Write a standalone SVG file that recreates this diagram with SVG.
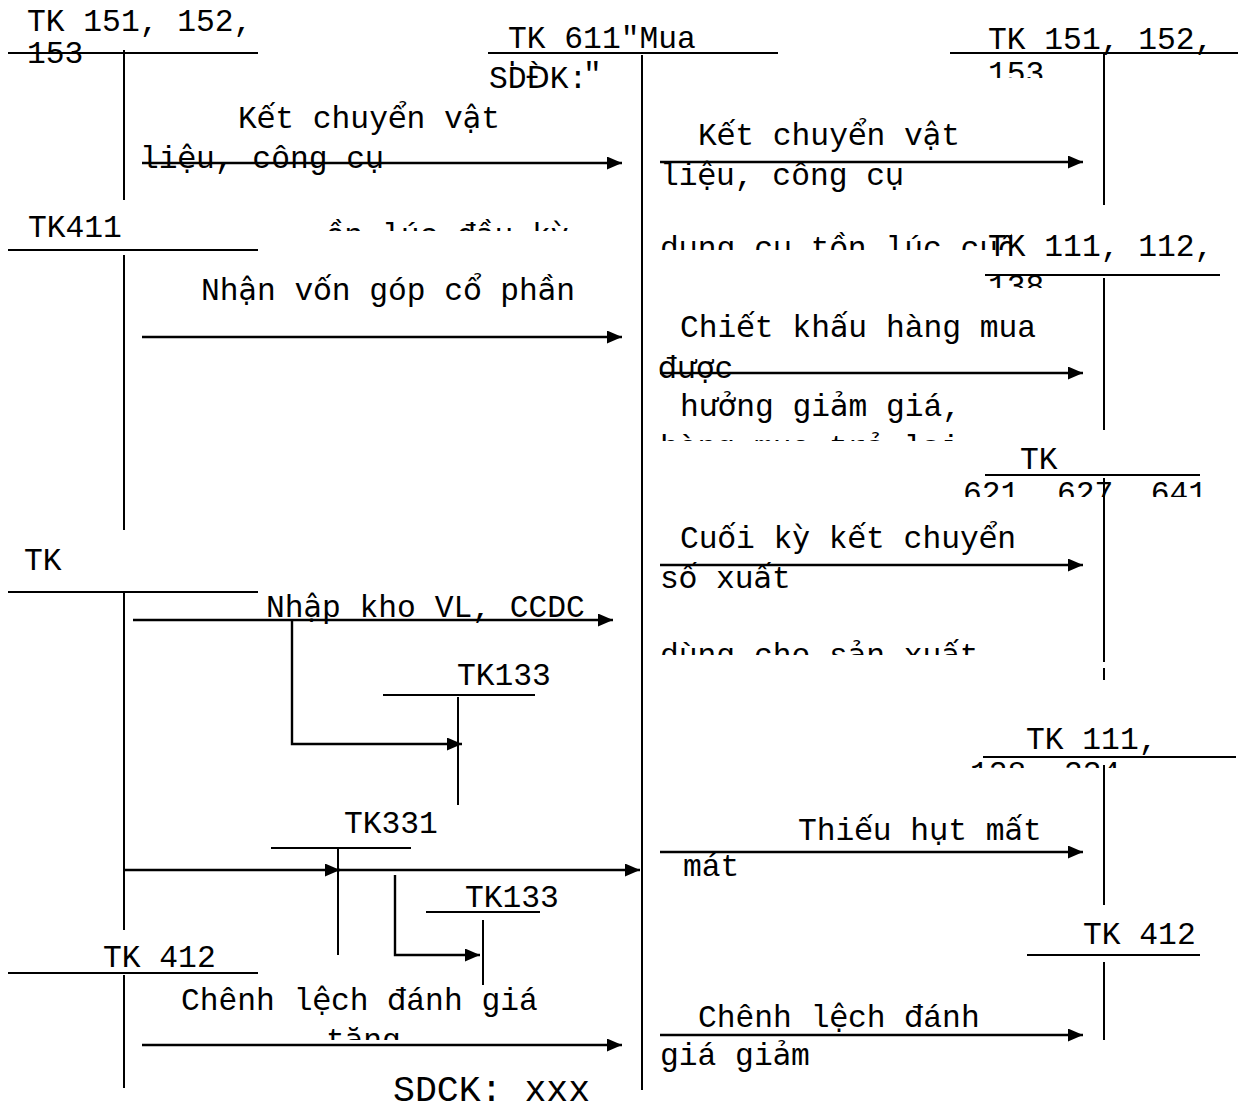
<svg xmlns="http://www.w3.org/2000/svg" width="1243" height="1111" viewBox="0 0 1243 1111">
<style>
text{font-family:"Liberation Mono","Courier New",monospace;font-size:31.3px;fill:#000}
.v{font-family:"DejaVu Sans","Liberation Sans",sans-serif;font-size:30px}
.big{font-size:36.5px}
line,polyline{stroke:#000;stroke-width:2;fill:none}
.c line,.c polyline{stroke-width:2.4}
</style>
<defs>
<marker id="ah" markerUnits="userSpaceOnUse" markerWidth="15" markerHeight="13" refX="15" refY="6.5" orient="auto"><path d="M0,0 L15,6.5 L0,13 z" fill="#000"/></marker>
<clipPath id="k1"><rect x="322" y="200" width="320" height="31"/></clipPath>
<clipPath id="k2"><rect x="650" y="220" width="362" height="30"/></clipPath>
<clipPath id="k3"><rect x="650" y="420" width="360" height="21"/></clipPath>
<clipPath id="k4"><rect x="650" y="630" width="360" height="25"/></clipPath>
<clipPath id="k5"><rect x="300" y="1020" width="200" height="20"/></clipPath>
<clipPath id="k6"><rect x="980" y="55" width="100" height="23"/></clipPath>
<clipPath id="k7"><rect x="980" y="276" width="100" height="12"/></clipPath>
<clipPath id="k8"><rect x="950" y="477" width="260" height="20"/></clipPath>
<clipPath id="k9"><rect x="950" y="759" width="260" height="9"/></clipPath>
</defs>

<g id="tk151-left">
<text x="27" y="31">TK 151, 152,</text>
<text x="27" y="63">153</text>
<line x1="8" y1="53" x2="258" y2="53"/>
<line x1="124" y1="50" x2="124" y2="200"/>
</g>

<g id="tk611">
<text x="508" y="48">TK 611"Mua</text>
<text x="508" y="84">hàng"</text>
<rect x="486" y="66" width="98" height="30" fill="#fff"/>
<text x="489" y="88">SD<tspan class="v">Đ</tspan>K:</text>
<line x1="488" y1="53" x2="778" y2="53"/>
<line x1="642" y1="55" x2="642" y2="1090"/>
</g>

<g id="tk151-right">
<text x="988" y="49">TK 151, 152,</text>
<text x="988" y="83" clip-path="url(#k6)">153</text>
<line x1="950" y1="53" x2="1238" y2="53"/>
<line x1="1104" y1="53" x2="1104" y2="205"/>
</g>

<g id="tk411">
<text x="28" y="237">TK411</text>
<line x1="8" y1="250" x2="258" y2="250"/>
<line x1="124" y1="255" x2="124" y2="530"/>
</g>

<g id="tk111-112-138">
<text x="988" y="256">TK 111, 112,</text>
<text x="988" y="296" clip-path="url(#k7)">138</text>
<line x1="985" y1="275" x2="1220" y2="275"/>
<line x1="1104" y1="278" x2="1104" y2="430"/>
</g>

<g id="tk621-627-641">
<text x="1020" y="469">TK</text>
<text x="963" y="503" clip-path="url(#k8)">621, 627, 641</text>
<line x1="985" y1="475" x2="1200" y2="475"/>
<line x1="1104" y1="478" x2="1104" y2="662"/>
<line x1="1104" y1="668" x2="1104" y2="680"/>
</g>

<g id="tk111-138-334">
<text x="1026" y="749">TK 111,</text>
<text x="970" y="783" clip-path="url(#k9)">138, 334</text>
<line x1="983" y1="757" x2="1236" y2="757"/>
<line x1="1104" y1="765" x2="1104" y2="905"/>
</g>

<g id="tk412-right">
<text x="1083" y="944">TK 412</text>
<line x1="1027" y1="955" x2="1200" y2="955"/>
<line x1="1104" y1="962" x2="1104" y2="1040"/>
</g>

<g id="tk-left">
<text x="24" y="570">TK</text>
<line x1="8" y1="592" x2="258" y2="592"/>
<line x1="124" y1="592" x2="124" y2="930"/>
</g>

<g id="tk133-a">
<text x="457" y="685">TK133</text>
<line x1="383" y1="695" x2="535" y2="695"/>
<line x1="458" y1="697" x2="458" y2="805"/>
</g>

<g id="tk331">
<text x="344" y="833">TK331</text>
<line x1="271" y1="848" x2="411" y2="848"/>
<line x1="338" y1="848" x2="338" y2="955"/>
</g>

<g id="tk133-b">
<text x="465" y="907">TK133</text>
<line x1="426" y1="912" x2="540" y2="912"/>
<line x1="483" y1="920" x2="483" y2="985"/>
</g>

<g id="tk412-left">
<text x="103" y="967">TK 412</text>
<line x1="8" y1="973" x2="258" y2="973"/>
<line x1="124" y1="975" x2="124" y2="1088"/>
</g>

<g id="labels">
<text x="238" y="128">K<tspan class="v">ế</tspan>t chuy<tspan class="v">ể</tspan>n v<tspan class="v">ậ</tspan>t</text>
<text x="140" y="168">li<tspan class="v">ệ</tspan>u, công c<tspan class="v">ụ</tspan></text>
<text x="326" y="245" clip-path="url(#k1)"><tspan class="v">ồ</tspan>n lúc <tspan class="v">đầ</tspan>u k<tspan class="v">ỳ</tspan></text>
<text x="201" y="300">Nh<tspan class="v">ậ</tspan>n v<tspan class="v">ố</tspan>n góp c<tspan class="v">ổ</tspan> ph<tspan class="v">ầ</tspan>n</text>
<text x="266" y="617">Nh<tspan class="v">ậ</tspan>p kho VL, CCDC</text>
<text x="181" y="1010">Chênh l<tspan class="v">ệ</tspan>ch <tspan class="v">đ</tspan>ánh giá</text>
<text x="326" y="1050" clip-path="url(#k5)">t<tspan class="v">ă</tspan>ng</text>
<text class="big" x="393" y="1101">SDCK: xxx</text>

<text x="698" y="145">K<tspan class="v">ế</tspan>t chuy<tspan class="v">ể</tspan>n v<tspan class="v">ậ</tspan>t</text>
<text x="660" y="185">li<tspan class="v">ệ</tspan>u, công c<tspan class="v">ụ</tspan></text>
<text x="660" y="258" clip-path="url(#k2)">d<tspan class="v">ụ</tspan>ng c<tspan class="v">ụ</tspan> t<tspan class="v">ồ</tspan>n lúc cu<tspan class="v">ố</tspan>i</text>
<text x="680" y="337">Chi<tspan class="v">ế</tspan>t kh<tspan class="v">ấ</tspan>u hàng mua</text>
<text x="658" y="378"><tspan class="v">đượ</tspan>c</text>
<text x="680" y="416">h<tspan class="v">ưở</tspan>ng gi<tspan class="v">ả</tspan>m giá,</text>
<text x="660" y="457" clip-path="url(#k3)">hàng mua tr<tspan class="v">ả</tspan> l<tspan class="v">ạ</tspan>i</text>
<text x="680" y="548">Cu<tspan class="v">ố</tspan>i k<tspan class="v">ỳ</tspan> k<tspan class="v">ế</tspan>t chuy<tspan class="v">ể</tspan>n</text>
<text x="660" y="588">s<tspan class="v">ố</tspan> xu<tspan class="v">ấ</tspan>t</text>
<text x="660" y="665" clip-path="url(#k4)">dùng cho s<tspan class="v">ả</tspan>n xu<tspan class="v">ấ</tspan>t</text>
<text x="798" y="840">Thi<tspan class="v">ế</tspan>u h<tspan class="v">ụ</tspan>t m<tspan class="v">ấ</tspan>t</text>
<text x="683" y="876">mát</text>
<text x="698" y="1027">Chênh l<tspan class="v">ệ</tspan>ch <tspan class="v">đ</tspan>ánh</text>
<text x="660" y="1065">giá gi<tspan class="v">ả</tspan>m</text>
</g>

<g id="connectors" class="c">
<line x1="142" y1="163" x2="622" y2="163" marker-end="url(#ah)"/>
<line x1="142" y1="337" x2="622" y2="337" marker-end="url(#ah)"/>
<line x1="133" y1="620" x2="613" y2="620" marker-end="url(#ah)"/>
<polyline points="292,620 292,744 462,744" marker-end="url(#ah)"/>
<line x1="124" y1="870" x2="340" y2="870" marker-end="url(#ah)"/>
<line x1="338" y1="870" x2="640" y2="870" marker-end="url(#ah)"/>
<polyline points="395,875 395,955 480,955" marker-end="url(#ah)"/>
<line x1="142" y1="1045" x2="622" y2="1045" marker-end="url(#ah)"/>
<line x1="660" y1="162" x2="1083" y2="162" marker-end="url(#ah)"/>
<line x1="660" y1="373" x2="1083" y2="373" marker-end="url(#ah)"/>
<line x1="660" y1="565" x2="1083" y2="565" marker-end="url(#ah)"/>
<line x1="660" y1="852" x2="1083" y2="852" marker-end="url(#ah)"/>
<line x1="660" y1="1035" x2="1083" y2="1035" marker-end="url(#ah)"/>
</g>
</svg>
